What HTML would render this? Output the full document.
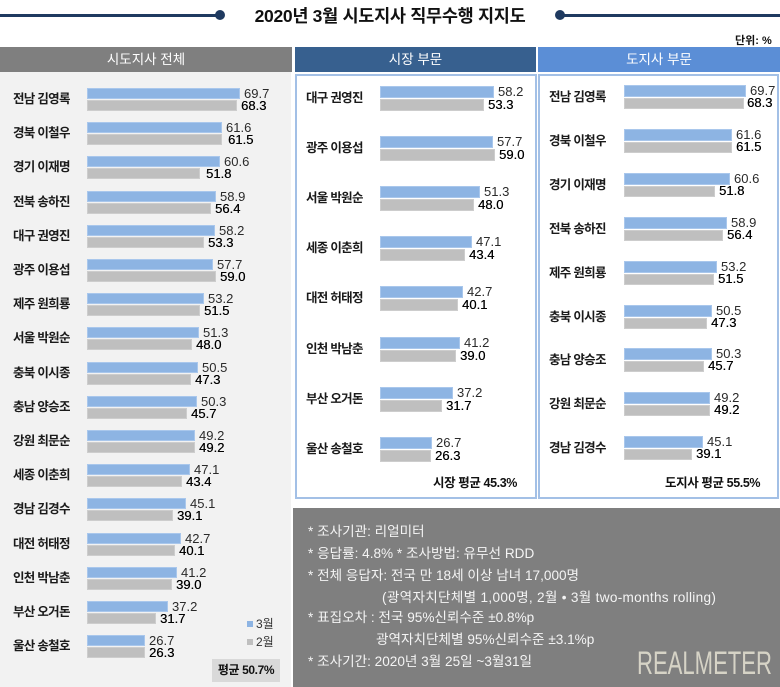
<!DOCTYPE html>
<html><head><meta charset="utf-8">
<style>
*{margin:0;padding:0;box-sizing:border-box}
body{width:780px;height:687px;background:#fff;position:relative;overflow:hidden;font-family:"Liberation Sans","Noto Sans CJK KR",sans-serif;color:#222}
.a{position:absolute}
.hdr{position:absolute;top:47px;height:25px;color:#fff;font-size:13.5px;line-height:25px;text-align:center;font-family:"Liberation Sans","Noto Sans CJK KR",sans-serif}
.row{position:absolute;left:0;width:0;height:0}
.lb{position:absolute;white-space:nowrap;font-weight:bold;font-size:12.5px;letter-spacing:-0.7px;color:#1a1a1a}
.b{position:absolute;background:#8db4e3;border:1px solid #a9c7ec}
.g{position:absolute;background:#bfbfbf;border:1px solid #cdcdcd}
.v{position:absolute;font-size:13px;white-space:nowrap;color:#2a2a2a;font-family:"Liberation Sans",sans-serif}
.g+.v+.v{color:#000;text-shadow:0.3px 0 0 #000}
.box{position:absolute;border:2px solid #a3c0e6;background:#fff}
.info{position:absolute;left:308px;font-size:13.6px;color:#f4f4f4;white-space:nowrap;line-height:16px}
</style></head><body>

<!-- title -->
<div class="a" style="left:0;top:14px;width:220px;height:2.5px;background:#1f3a60"></div>
<div class="a" style="left:215px;top:10px;width:10px;height:10px;border-radius:50%;background:#1f3a60"></div>
<div class="a" style="left:560px;top:14px;width:220px;height:2.5px;background:#1f3a60"></div>
<div class="a" style="left:555px;top:10px;width:10px;height:10px;border-radius:50%;background:#1f3a60"></div>
<div class="a" style="left:230px;top:4px;width:320px;text-align:center;font-size:17.5px;font-weight:bold;letter-spacing:-0.3px;line-height:24px;color:#111">2020년 3월 시도지사 직무수행 지지도</div>
<div class="a" style="left:735px;top:34px;font-size:11px;font-weight:bold;line-height:14px;color:#111">단위: %</div>

<!-- headers -->
<div class="hdr" style="left:0;width:292px;background:#7f7f7f">시도지사 전체</div>
<div class="hdr" style="left:295px;width:241px;background:#37608f">시장 부문</div>
<div class="hdr" style="left:538px;width:242px;background:#5b8ed6">도지사 부문</div>

<!-- left panel -->
<div class="a" style="left:0;top:72px;width:291px;height:615px;background:#f2f2f2"></div>

<!-- middle & right boxes -->
<div class="box" style="left:295px;top:74px;width:242px;height:425px"></div>
<div class="box" style="left:538px;top:74px;width:241px;height:425px"></div>

<!-- LEFT ROWS -->
<div class="row" style="top:88px"><div class="lb" style="left:13px;top:0;line-height:23px">전남 김영록</div><div class="b" style="left:87px;top:0;width:153px;height:11px"></div><div class="g" style="left:87px;top:12px;width:150px;height:11px"></div><div class="v" style="left:244px;top:-2px;line-height:15px">69.7</div><div class="v" style="left:241px;top:10px;line-height:15px">68.3</div></div>
<div class="row" style="top:122px"><div class="lb" style="left:13px;top:0;line-height:23px">경북 이철우</div><div class="b" style="left:87px;top:0;width:135px;height:11px"></div><div class="g" style="left:87px;top:12px;width:135px;height:11px"></div><div class="v" style="left:226px;top:-2px;line-height:15px">61.6</div><div class="v" style="left:228px;top:10px;line-height:15px">61.5</div></div>
<div class="row" style="top:156px"><div class="lb" style="left:13px;top:0;line-height:23px">경기 이재명</div><div class="b" style="left:87px;top:0;width:133px;height:11px"></div><div class="g" style="left:87px;top:12px;width:113px;height:11px"></div><div class="v" style="left:224px;top:-2px;line-height:15px">60.6</div><div class="v" style="left:206px;top:10px;line-height:15px">51.8</div></div>
<div class="row" style="top:191px"><div class="lb" style="left:13px;top:0;line-height:23px">전북 송하진</div><div class="b" style="left:87px;top:0;width:129px;height:11px"></div><div class="g" style="left:87px;top:12px;width:124px;height:11px"></div><div class="v" style="left:220px;top:-2px;line-height:15px">58.9</div><div class="v" style="left:215px;top:10px;line-height:15px">56.4</div></div>
<div class="row" style="top:225px"><div class="lb" style="left:13px;top:0;line-height:23px">대구 권영진</div><div class="b" style="left:87px;top:0;width:128px;height:11px"></div><div class="g" style="left:87px;top:12px;width:117px;height:11px"></div><div class="v" style="left:219px;top:-2px;line-height:15px">58.2</div><div class="v" style="left:208px;top:10px;line-height:15px">53.3</div></div>
<div class="row" style="top:259px"><div class="lb" style="left:13px;top:0;line-height:23px">광주 이용섭</div><div class="b" style="left:87px;top:0;width:126px;height:11px"></div><div class="g" style="left:87px;top:12px;width:129px;height:11px"></div><div class="v" style="left:217px;top:-2px;line-height:15px">57.7</div><div class="v" style="left:220px;top:10px;line-height:15px">59.0</div></div>
<div class="row" style="top:293px"><div class="lb" style="left:13px;top:0;line-height:23px">제주 원희룡</div><div class="b" style="left:87px;top:0;width:117px;height:11px"></div><div class="g" style="left:87px;top:12px;width:113px;height:11px"></div><div class="v" style="left:208px;top:-2px;line-height:15px">53.2</div><div class="v" style="left:204px;top:10px;line-height:15px">51.5</div></div>
<div class="row" style="top:327px"><div class="lb" style="left:13px;top:0;line-height:23px">서울 박원순</div><div class="b" style="left:87px;top:0;width:112px;height:11px"></div><div class="g" style="left:87px;top:12px;width:105px;height:11px"></div><div class="v" style="left:203px;top:-2px;line-height:15px">51.3</div><div class="v" style="left:196px;top:10px;line-height:15px">48.0</div></div>
<div class="row" style="top:362px"><div class="lb" style="left:13px;top:0;line-height:23px">충북 이시종</div><div class="b" style="left:87px;top:0;width:111px;height:11px"></div><div class="g" style="left:87px;top:12px;width:104px;height:11px"></div><div class="v" style="left:202px;top:-2px;line-height:15px">50.5</div><div class="v" style="left:195px;top:10px;line-height:15px">47.3</div></div>
<div class="row" style="top:396px"><div class="lb" style="left:13px;top:0;line-height:23px">충남 양승조</div><div class="b" style="left:87px;top:0;width:110px;height:11px"></div><div class="g" style="left:87px;top:12px;width:100px;height:11px"></div><div class="v" style="left:201px;top:-2px;line-height:15px">50.3</div><div class="v" style="left:191px;top:10px;line-height:15px">45.7</div></div>
<div class="row" style="top:430px"><div class="lb" style="left:13px;top:0;line-height:23px">강원 최문순</div><div class="b" style="left:87px;top:0;width:108px;height:11px"></div><div class="g" style="left:87px;top:12px;width:108px;height:11px"></div><div class="v" style="left:199px;top:-2px;line-height:15px">49.2</div><div class="v" style="left:199px;top:10px;line-height:15px">49.2</div></div>
<div class="row" style="top:464px"><div class="lb" style="left:13px;top:0;line-height:23px">세종 이춘희</div><div class="b" style="left:87px;top:0;width:103px;height:11px"></div><div class="g" style="left:87px;top:12px;width:95px;height:11px"></div><div class="v" style="left:194px;top:-2px;line-height:15px">47.1</div><div class="v" style="left:186px;top:10px;line-height:15px">43.4</div></div>
<div class="row" style="top:498px"><div class="lb" style="left:13px;top:0;line-height:23px">경남 김경수</div><div class="b" style="left:87px;top:0;width:99px;height:11px"></div><div class="g" style="left:87px;top:12px;width:86px;height:11px"></div><div class="v" style="left:190px;top:-2px;line-height:15px">45.1</div><div class="v" style="left:177px;top:10px;line-height:15px">39.1</div></div>
<div class="row" style="top:533px"><div class="lb" style="left:13px;top:0;line-height:23px">대전 허태정</div><div class="b" style="left:87px;top:0;width:94px;height:11px"></div><div class="g" style="left:87px;top:12px;width:88px;height:11px"></div><div class="v" style="left:185px;top:-2px;line-height:15px">42.7</div><div class="v" style="left:179px;top:10px;line-height:15px">40.1</div></div>
<div class="row" style="top:567px"><div class="lb" style="left:13px;top:0;line-height:23px">인천 박남춘</div><div class="b" style="left:87px;top:0;width:90px;height:11px"></div><div class="g" style="left:87px;top:12px;width:85px;height:11px"></div><div class="v" style="left:181px;top:-2px;line-height:15px">41.2</div><div class="v" style="left:176px;top:10px;line-height:15px">39.0</div></div>
<div class="row" style="top:601px"><div class="lb" style="left:13px;top:0;line-height:23px">부산 오거돈</div><div class="b" style="left:87px;top:0;width:81px;height:11px"></div><div class="g" style="left:87px;top:12px;width:69px;height:11px"></div><div class="v" style="left:172px;top:-2px;line-height:15px">37.2</div><div class="v" style="left:160px;top:10px;line-height:15px">31.7</div></div>
<div class="row" style="top:635px"><div class="lb" style="left:13px;top:0;line-height:23px">울산 송철호</div><div class="b" style="left:87px;top:0;width:58px;height:11px"></div><div class="g" style="left:87px;top:12px;width:58px;height:11px"></div><div class="v" style="left:149px;top:-2px;line-height:15px">26.7</div><div class="v" style="left:149px;top:10px;line-height:15px">26.3</div></div>

<!-- legend -->
<div class="a" style="left:247px;top:621px;width:6px;height:6px;background:#8db4e3"></div>
<div class="a" style="left:256px;top:616px;font-size:12px;line-height:16px;color:#333">3월</div>
<div class="a" style="left:247px;top:639px;width:6px;height:6px;background:#bfbfbf"></div>
<div class="a" style="left:256px;top:634px;font-size:12px;line-height:16px;color:#333">2월</div>
<div class="a" style="left:212px;top:659px;width:68px;height:23px;background:#d9d9d9;font-size:12px;font-weight:bold;line-height:23px;text-align:center;letter-spacing:-0.4px;color:#111">평균 50.7%</div>

<!-- MIDDLE ROWS -->
<div class="row" style="top:86px"><div class="lb" style="left:306px;top:0;line-height:25px">대구 권영진</div><div class="b" style="left:380px;top:0;width:114px;height:12px"></div><div class="g" style="left:380px;top:13px;width:104px;height:12px"></div><div class="v" style="left:498px;top:-2px;line-height:16px">58.2</div><div class="v" style="left:488px;top:11px;line-height:16px">53.3</div></div>
<div class="row" style="top:136px"><div class="lb" style="left:306px;top:0;line-height:25px">광주 이용섭</div><div class="b" style="left:380px;top:0;width:113px;height:12px"></div><div class="g" style="left:380px;top:13px;width:115px;height:12px"></div><div class="v" style="left:497px;top:-2px;line-height:16px">57.7</div><div class="v" style="left:499px;top:11px;line-height:16px">59.0</div></div>
<div class="row" style="top:186px"><div class="lb" style="left:306px;top:0;line-height:25px">서울 박원순</div><div class="b" style="left:380px;top:0;width:100px;height:12px"></div><div class="g" style="left:380px;top:13px;width:94px;height:12px"></div><div class="v" style="left:484px;top:-2px;line-height:16px">51.3</div><div class="v" style="left:478px;top:11px;line-height:16px">48.0</div></div>
<div class="row" style="top:236px"><div class="lb" style="left:306px;top:0;line-height:25px">세종 이춘희</div><div class="b" style="left:380px;top:0;width:92px;height:12px"></div><div class="g" style="left:380px;top:13px;width:85px;height:12px"></div><div class="v" style="left:476px;top:-2px;line-height:16px">47.1</div><div class="v" style="left:469px;top:11px;line-height:16px">43.4</div></div>
<div class="row" style="top:286px"><div class="lb" style="left:306px;top:0;line-height:25px">대전 허태정</div><div class="b" style="left:380px;top:0;width:83px;height:12px"></div><div class="g" style="left:380px;top:13px;width:78px;height:12px"></div><div class="v" style="left:467px;top:-2px;line-height:16px">42.7</div><div class="v" style="left:462px;top:11px;line-height:16px">40.1</div></div>
<div class="row" style="top:337px"><div class="lb" style="left:306px;top:0;line-height:25px">인천 박남춘</div><div class="b" style="left:380px;top:0;width:80px;height:12px"></div><div class="g" style="left:380px;top:13px;width:76px;height:12px"></div><div class="v" style="left:464px;top:-2px;line-height:16px">41.2</div><div class="v" style="left:460px;top:11px;line-height:16px">39.0</div></div>
<div class="row" style="top:387px"><div class="lb" style="left:306px;top:0;line-height:25px">부산 오거돈</div><div class="b" style="left:380px;top:0;width:73px;height:12px"></div><div class="g" style="left:380px;top:13px;width:62px;height:12px"></div><div class="v" style="left:457px;top:-2px;line-height:16px">37.2</div><div class="v" style="left:446px;top:11px;line-height:16px">31.7</div></div>
<div class="row" style="top:437px"><div class="lb" style="left:306px;top:0;line-height:25px">울산 송철호</div><div class="b" style="left:380px;top:0;width:52px;height:12px"></div><div class="g" style="left:380px;top:13px;width:51px;height:12px"></div><div class="v" style="left:436px;top:-2px;line-height:16px">26.7</div><div class="v" style="left:435px;top:11px;line-height:16px">26.3</div></div>
<div class="a" style="left:433px;top:475px;font-size:12.5px;font-weight:bold;line-height:16px;letter-spacing:-0.4px;color:#111;white-space:nowrap">시장 평균 45.3%</div>

<!-- RIGHT ROWS -->
<div class="row" style="top:85px"><div class="lb" style="left:549px;top:0;line-height:24px">전남 김영록</div><div class="b" style="left:624px;top:0;width:122px;height:12px"></div><div class="g" style="left:624px;top:13px;width:120px;height:11px"></div><div class="v" style="left:750px;top:-2px;line-height:16px">69.7</div><div class="v" style="left:747px;top:10px;line-height:16px">68.3</div></div>
<div class="row" style="top:129px"><div class="lb" style="left:549px;top:0;line-height:24px">경북 이철우</div><div class="b" style="left:624px;top:0;width:108px;height:12px"></div><div class="g" style="left:624px;top:13px;width:108px;height:11px"></div><div class="v" style="left:736px;top:-2px;line-height:16px">61.6</div><div class="v" style="left:736px;top:10px;line-height:16px">61.5</div></div>
<div class="row" style="top:173px"><div class="lb" style="left:549px;top:0;line-height:24px">경기 이재명</div><div class="b" style="left:624px;top:0;width:106px;height:12px"></div><div class="g" style="left:624px;top:13px;width:91px;height:11px"></div><div class="v" style="left:734px;top:-2px;line-height:16px">60.6</div><div class="v" style="left:719px;top:10px;line-height:16px">51.8</div></div>
<div class="row" style="top:217px"><div class="lb" style="left:549px;top:0;line-height:24px">전북 송하진</div><div class="b" style="left:624px;top:0;width:103px;height:12px"></div><div class="g" style="left:624px;top:13px;width:99px;height:11px"></div><div class="v" style="left:731px;top:-2px;line-height:16px">58.9</div><div class="v" style="left:727px;top:10px;line-height:16px">56.4</div></div>
<div class="row" style="top:261px"><div class="lb" style="left:549px;top:0;line-height:24px">제주 원희룡</div><div class="b" style="left:624px;top:0;width:93px;height:12px"></div><div class="g" style="left:624px;top:13px;width:90px;height:11px"></div><div class="v" style="left:721px;top:-2px;line-height:16px">53.2</div><div class="v" style="left:718px;top:10px;line-height:16px">51.5</div></div>
<div class="row" style="top:305px"><div class="lb" style="left:549px;top:0;line-height:24px">충북 이시종</div><div class="b" style="left:624px;top:0;width:88px;height:12px"></div><div class="g" style="left:624px;top:13px;width:83px;height:11px"></div><div class="v" style="left:716px;top:-2px;line-height:16px">50.5</div><div class="v" style="left:711px;top:10px;line-height:16px">47.3</div></div>
<div class="row" style="top:348px"><div class="lb" style="left:549px;top:0;line-height:24px">충남 양승조</div><div class="b" style="left:624px;top:0;width:88px;height:12px"></div><div class="g" style="left:624px;top:13px;width:80px;height:11px"></div><div class="v" style="left:716px;top:-2px;line-height:16px">50.3</div><div class="v" style="left:708px;top:10px;line-height:16px">45.7</div></div>
<div class="row" style="top:392px"><div class="lb" style="left:549px;top:0;line-height:24px">강원 최문순</div><div class="b" style="left:624px;top:0;width:86px;height:12px"></div><div class="g" style="left:624px;top:13px;width:86px;height:11px"></div><div class="v" style="left:714px;top:-2px;line-height:16px">49.2</div><div class="v" style="left:714px;top:10px;line-height:16px">49.2</div></div>
<div class="row" style="top:436px"><div class="lb" style="left:549px;top:0;line-height:24px">경남 김경수</div><div class="b" style="left:624px;top:0;width:79px;height:12px"></div><div class="g" style="left:624px;top:13px;width:68px;height:11px"></div><div class="v" style="left:707px;top:-2px;line-height:16px">45.1</div><div class="v" style="left:696px;top:10px;line-height:16px">39.1</div></div>
<div class="a" style="left:665px;top:475px;font-size:12.5px;font-weight:bold;line-height:16px;letter-spacing:-0.4px;color:#111;white-space:nowrap">도지사 평균 55.5%</div>

<!-- info box -->
<div class="a" style="left:293px;top:508px;width:487px;height:179px;background:#7f7f7f"></div>
<div class="info" style="top:524px">* 조사기관: 리얼미터</div>
<div class="info" style="top:546px">* 응답률: 4.8% * 조사방법: 유무선 RDD</div>
<div class="info" style="top:568px">* 전체 응답자: 전국 만 18세 이상 남녀 17,000명</div>
<div class="info" style="top:590px;left:382px;letter-spacing:0.3px">(광역자치단체별 1,000명, 2월 • 3월 two-months rolling)</div>
<div class="info" style="top:610px">* 표집오차 : 전국 95%신뢰수준 ±0.8%p</div>
<div class="info" style="top:632px;left:376px">광역자치단체별 95%신뢰수준 ±3.1%p</div>
<div class="info" style="top:654px">* 조사기간: 2020년 3월 25일 ~3월31일</div>
<div class="a" style="left:637px;top:646px;font-size:32px;line-height:34px;color:#d6d3c6;white-space:nowrap;transform:scaleX(0.69);transform-origin:0 0;font-family:'Liberation Sans',sans-serif">REALMETER</div>

</body></html>
